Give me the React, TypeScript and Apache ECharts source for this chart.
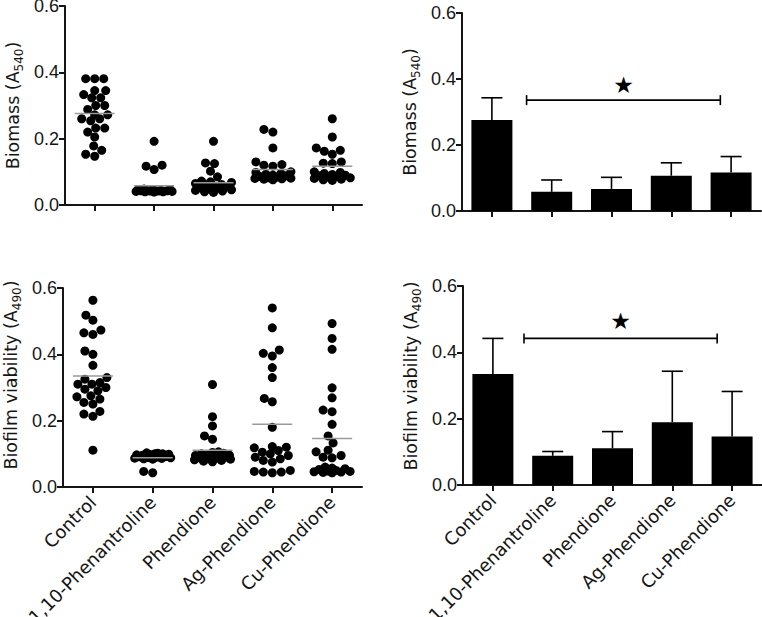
import React, { useEffect, useRef } from 'react';
import * as echarts from 'echarts';

const categories = ['Control', '1,10-Phenantroline', 'Phendione', 'Ag-Phendione', 'Cu-Phendione'];
const yTickLabels = ['0.0', '0.2', '0.4', '0.6'];

// Biomass (A540) individual values
const biomassControl = [0.381, 0.381, 0.381, 0.345, 0.345, 0.333, 0.323, 0.323, 0.30, 0.30, 0.288, 0.272, 0.272, 0.26, 0.26, 0.254, 0.232, 0.232, 0.22, 0.205, 0.178, 0.165, 0.153, 0.147];
const biomassPhen = [0.192, 0.12, 0.117, 0.107, 0.048, 0.047, 0.046, 0.045, 0.045, 0.044, 0.044, 0.043, 0.043, 0.042, 0.042, 0.041, 0.041, 0.04, 0.04, 0.039];
const biomassPhendione = [0.192, 0.127, 0.125, 0.102, 0.085, 0.072, 0.07, 0.068, 0.065, 0.062, 0.06, 0.058, 0.055, 0.052, 0.05, 0.048, 0.046, 0.044, 0.042, 0.04, 0.038];
const biomassAg = [0.228, 0.22, 0.172, 0.13, 0.122, 0.12, 0.117, 0.1, 0.098, 0.095, 0.093, 0.09, 0.088, 0.086, 0.084, 0.082, 0.081, 0.08, 0.079, 0.078, 0.076];
const biomassCu = [0.26, 0.205, 0.172, 0.165, 0.162, 0.153, 0.13, 0.126, 0.125, 0.1, 0.098, 0.095, 0.092, 0.09, 0.088, 0.086, 0.084, 0.082, 0.08, 0.078, 0.076, 0.074];

// Biofilm viability (A490) individual values
const viabilityControl = [0.563, 0.518, 0.503, 0.473, 0.465, 0.46, 0.41, 0.40, 0.367, 0.33, 0.325, 0.315, 0.31, 0.31, 0.30, 0.295, 0.29, 0.275, 0.272, 0.265, 0.255, 0.25, 0.228, 0.22, 0.213, 0.111];
const viabilityPhen = [0.103, 0.102, 0.1, 0.1, 0.099, 0.098, 0.097, 0.096, 0.095, 0.094, 0.093, 0.092, 0.091, 0.09, 0.089, 0.088, 0.087, 0.086, 0.085, 0.084, 0.047, 0.043];
const viabilityPhendione = [0.309, 0.212, 0.184, 0.154, 0.144, 0.106, 0.104, 0.102, 0.1, 0.099, 0.098, 0.096, 0.095, 0.094, 0.092, 0.091, 0.09, 0.088, 0.087, 0.085, 0.084, 0.082, 0.08, 0.078, 0.076];
const viabilityAg = [0.54, 0.48, 0.413, 0.403, 0.395, 0.36, 0.33, 0.267, 0.257, 0.18, 0.122, 0.12, 0.118, 0.11, 0.105, 0.1, 0.095, 0.09, 0.085, 0.08, 0.075, 0.05, 0.047, 0.045, 0.045, 0.043];
const viabilityCu = [0.493, 0.448, 0.415, 0.299, 0.269, 0.232, 0.227, 0.189, 0.154, 0.133, 0.111, 0.106, 0.095, 0.09, 0.088, 0.06, 0.057, 0.055, 0.053, 0.05, 0.048, 0.047, 0.046, 0.045, 0.044, 0.043];

// Means and SD (bars)
const biomassMeans = [0.276, 0.058, 0.067, 0.107, 0.117];
const biomassSD = [0.067, 0.036, 0.035, 0.039, 0.048];
const viabilityMeans = [0.335, 0.088, 0.111, 0.189, 0.146];
const viabilitySD = [0.107, 0.013, 0.05, 0.154, 0.136];

// Significance brackets: [from, to, bracket level, star level]
const biomassBracket = [0.58, 3.82, 0.336, 0.383];
const viabilityBracket = [0.52, 3.75, 0.442, 0.494];

const biomassGroups = [biomassControl, biomassPhen, biomassPhendione, biomassAg, biomassCu];
const viabilityGroups = [viabilityControl, viabilityPhen, viabilityPhendione, viabilityAg, viabilityCu];

const DOT = 9;

// deterministic beeswarm layout (pixel offsets)
function swarm(values: number[], pxPerY: number, d: number, maxHalf: number): number[] {
  const order = values.map((_, i) => i).sort((a, b) => values[a] - values[b]);
  const placed: { x: number; y: number }[] = [];
  const out = new Array(values.length).fill(0);
  for (const i of order) {
    const y = values[i] * pxPerY;
    let best = 0;
    let bestScore = -Infinity;
    for (let k = 0; k <= 2 * maxHalf; k++) {
      const dx = k === 0 ? 0 : (k % 2 === 1 ? -1 : 1) * Math.ceil(k / 2);
      let minD = Infinity;
      for (const p of placed) {
        const dd = Math.hypot(p.x - dx, p.y - y);
        if (dd < minD) minD = dd;
      }
      if (minD >= d) {
        best = dx;
        break;
      }
      if (minD > bestScore + 0.5) {
        bestScore = minD;
        best = dx;
      }
    }
    placed.push({ x: best, y });
    out[i] = best;
  }
  return out;
}

function swarmData(groups: number[][], bandPx: number, pxPerY: number) {
  const data: number[][] = [];
  groups.forEach((g, gi) => {
    const offs = swarm(g, pxPerY, 8.5, 18);
    g.forEach((v, j) => data.push([gi + offs[j] / bandPx, v]));
  });
  return data;
}

const AX = '#151515';
const FONT_NUM = 'Liberation Sans';
const FONT_TXT = 'DejaVu Sans';

function yAxis(gridIndex: number, main: string, sub: string, padLeft: number) {
  return {
    type: 'value',
    gridIndex,
    min: 0,
    max: 0.6,
    interval: 0.2,
    axisLine: { show: true, onZero: false, lineStyle: { color: AX, width: 2 } },
    axisTick: { show: true, length: 6, lineStyle: { color: AX, width: 2 } },
    splitLine: { show: false },
    axisLabel: {
      formatter: (v: number) => yTickLabels[Math.round(v / 0.2)],
      fontFamily: FONT_NUM,
      fontSize: 18,
      color: AX,
      margin: 6,
    },
    name: `{n|${main}}{s|${sub}}{n|)}`,
    nameLocation: 'middle',
    nameRotate: 90,
    nameGap: 40,
    nameTextStyle: {
      padding: [0, 0, 0, padLeft],
      rich: {
        n: { fontFamily: FONT_TXT, fontSize: 17.5, color: AX, lineHeight: 24, verticalAlign: 'middle' },
        s: { fontFamily: FONT_TXT, fontSize: 12, color: AX, lineHeight: 12, verticalAlign: 'bottom' },
      },
    },
  };
}

function catAxis(gridIndex: number, showLabels: boolean) {
  return {
    type: 'category',
    gridIndex,
    data: categories,
    boundaryGap: true,
    axisLine: { show: true, onZero: false, lineStyle: { color: AX, width: 2 } },
    axisTick: { show: true, alignWithLabel: true, length: 6, lineStyle: { color: AX, width: 2 } },
    axisLabel: {
      show: showLabels,
      interval: 0,
      rotate: 45,
      fontFamily: FONT_TXT,
      fontSize: 18,
      color: AX,
      margin: 12,
    },
    splitLine: { show: false },
  };
}

function hiddenAxis(gridIndex: number) {
  return { type: 'value', gridIndex, min: -0.5, max: 4.5, show: false, splitLine: { show: false } };
}

function meanLineSeries(xi: number, yi: number, means: number[]) {
  return {
    type: 'custom',
    xAxisIndex: xi,
    yAxisIndex: yi,
    z: 5,
    encode: { x: 0, y: 1 },
    data: means.map((m, i) => [i, m]),
    renderItem: (_p: any, api: any) => {
      const c = api.coord([api.value(0), api.value(1)]);
      return {
        type: 'line',
        shape: { x1: c[0] - 20, y1: c[1], x2: c[0] + 20, y2: c[1] },
        style: { stroke: '#9a9a9a', lineWidth: 1.5 },
      };
    },
  };
}

function errorSeries(xi: number, yi: number, means: number[], sds: number[]) {
  return {
    type: 'custom',
    xAxisIndex: xi,
    yAxisIndex: yi,
    z: 5,
    encode: { x: 0, y: 1 },
    data: means.map((m, i) => [i, m, sds[i]]),
    renderItem: (_p: any, api: any) => {
      const a = api.coord([api.value(0), api.value(1)]);
      const b = api.coord([api.value(0), api.value(1) + api.value(2)]);
      const st = { stroke: '#000', lineWidth: 1.6 };
      return {
        type: 'group',
        children: [
          { type: 'line', shape: { x1: a[0], y1: a[1], x2: b[0], y2: b[1] }, style: st },
          { type: 'line', shape: { x1: b[0] - 10.5, y1: b[1], x2: b[0] + 10.5, y2: b[1] }, style: st },
        ],
      };
    },
  };
}

function bracketSeries(xi: number, yi: number, br: number[]) {
  return {
    type: 'custom',
    xAxisIndex: xi,
    yAxisIndex: yi,
    z: 5,
    encode: { x: [0, 1], y: [2, 3] },
    data: [br],
    renderItem: (_p: any, api: any) => {
      const a = api.coord([api.value(0), api.value(2)]);
      const b = api.coord([api.value(1), api.value(2)]);
      const s = api.coord([(api.value(0) + api.value(1)) / 2, api.value(3)]);
      const st = { stroke: '#000', lineWidth: 1.6 };
      return {
        type: 'group',
        children: [
          { type: 'line', shape: { x1: a[0], y1: a[1], x2: b[0], y2: b[1] }, style: st },
          { type: 'line', shape: { x1: a[0], y1: a[1] - 5, x2: a[0], y2: a[1] + 5 }, style: st },
          { type: 'line', shape: { x1: b[0], y1: b[1] - 5, x2: b[0], y2: b[1] + 5 }, style: st },
          {
            type: 'text',
            x: s[0],
            y: s[1],
            style: {
              text: '★',
              fill: '#000',
              fontSize: 23,
              fontFamily: FONT_TXT,
              align: 'center',
              verticalAlign: 'middle',
              textAlign: 'center',
              textVerticalAlign: 'middle',
            },
          },
        ],
      };
    },
  };
}

const G = [
  { left: 65, top: 6, width: 297, height: 199 },
  { left: 462, top: 13, width: 299, height: 198 },
  { left: 63, top: 288, width: 299, height: 199 },
  { left: 463, top: 286, width: 299, height: 199 },
];

export default function App() {
  const ref = useRef<HTMLDivElement>(null);
  useEffect(() => {
    if (!ref.current) return;
    const chart = echarts.init(ref.current, undefined, { renderer: 'svg' });
    const option = {
      animation: false,
      backgroundColor: '#ffffff',
      grid: G.map((g) => ({ ...g, containLabel: false, outerBoundsMode: 'none' })),
      xAxis: [
        catAxis(0, false), hiddenAxis(0),
        catAxis(1, false), hiddenAxis(1),
        catAxis(2, true), hiddenAxis(2),
        catAxis(3, true), hiddenAxis(3),
      ],
      yAxis: [
        yAxis(0, 'Biomass (A', '540', 0),
        yAxis(1, 'Biomass (A', '540', 0),
        yAxis(2, 'Biofilm viability (A', '490', 25),
        yAxis(3, 'Biofilm viability (A', '490', 19),
      ],
      series: [
        {
          type: 'scatter',
          xAxisIndex: 1,
          yAxisIndex: 0,
          symbolSize: DOT,
          itemStyle: { color: '#000', opacity: 1 },
          data: swarmData(biomassGroups, G[0].width / 5, G[0].height / 0.6),
        },
        meanLineSeries(0, 0, biomassMeans),
        {
          type: 'bar',
          xAxisIndex: 2,
          yAxisIndex: 1,
          barWidth: 41,
          itemStyle: { color: '#000' },
          data: biomassMeans,
        },
        errorSeries(2, 1, biomassMeans, biomassSD),
        bracketSeries(3, 1, biomassBracket),
        {
          type: 'scatter',
          xAxisIndex: 5,
          yAxisIndex: 2,
          symbolSize: DOT,
          itemStyle: { color: '#000', opacity: 1 },
          data: swarmData(viabilityGroups, G[2].width / 5, G[2].height / 0.6),
        },
        meanLineSeries(4, 2, viabilityMeans),
        {
          type: 'bar',
          xAxisIndex: 6,
          yAxisIndex: 3,
          barWidth: 41,
          itemStyle: { color: '#000' },
          data: viabilityMeans,
        },
        errorSeries(6, 3, viabilityMeans, viabilitySD),
        bracketSeries(7, 3, viabilityBracket),
      ],
    };
    chart.setOption(option as any);
    return () => chart.dispose();
  }, []);
  return (
    <div
      ref={ref}
      style={{ position: 'absolute', left: 0, top: 0, width: 762, height: 617 }}
    />
  );
}
